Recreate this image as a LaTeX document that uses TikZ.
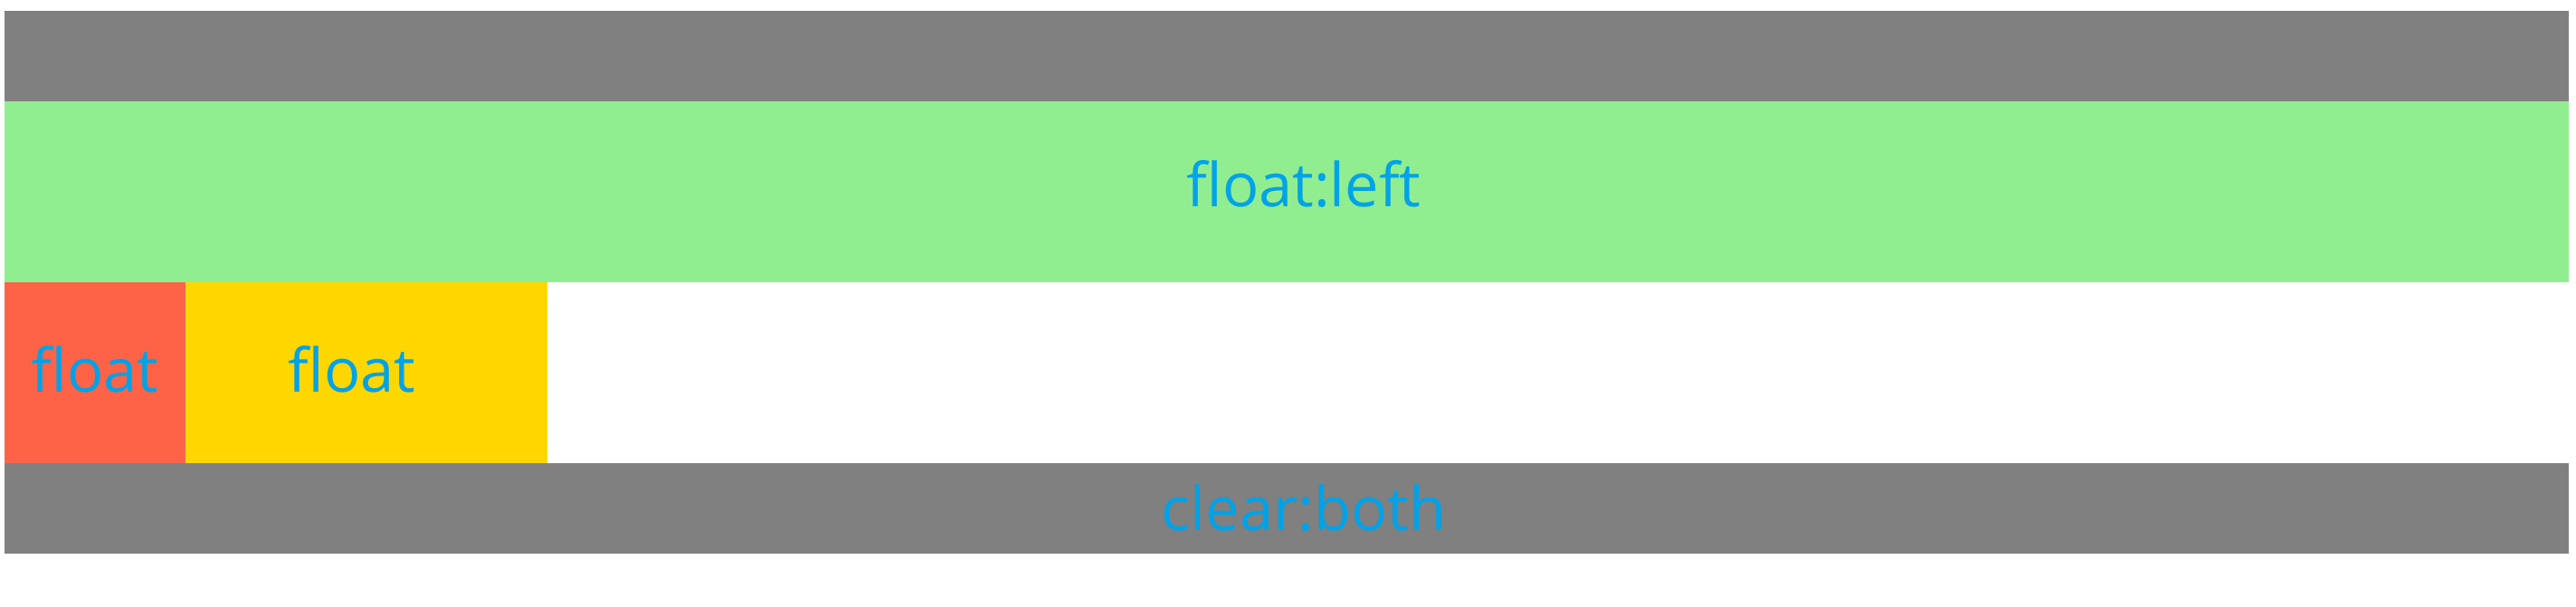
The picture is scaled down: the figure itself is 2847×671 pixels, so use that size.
\documentclass[tikz,border=0pt]{standalone}
\usepackage{fontspec}
\setmainfont{Open Sans}
\usetikzlibrary{positioning}

\definecolor{boxgray}{HTML}{808080}
\definecolor{boxgreen}{HTML}{90EE90}
\definecolor{boxred}{HTML}{FF6347}
\definecolor{boxgold}{HTML}{FFD700}
\definecolor{labelblue}{HTML}{00A2E8}

\begin{document}
\begin{tikzpicture}[
    x=0.01cm, y=0.01cm,
    box/.style={
        rectangle,
        inner sep=0pt,
        outer sep=0pt,
        anchor=north west
    },
    tag/.style={ % Text inside the boxes
        text=labelblue,
        font=\fontsize{19}{23}\selectfont,
        inner sep=0pt,
        anchor=base
    }
]

    \useasboundingbox (0,0) rectangle (2847,671);

    % Header and float:left bar
    \node[box, fill=boxgray, minimum width=28.32cm, minimum height=1cm] (header) at (5,659) {};
    \node[box, fill=boxgreen, minimum width=28.32cm, minimum height=2cm] (left) at (5,559) {};

    % Floating boxes
    \node[box, fill=boxred, minimum width=2cm, minimum height=2cm] (red) at (5,359) {};
    \node[box, fill=boxgold, minimum width=4cm, minimum height=2cm, right=0pt of red.north east, anchor=north west] (gold) {};

    % Clearing bar
    \node[box, fill=boxgray, minimum width=28.32cm, minimum height=1cm] (clear) at (5,159) {};

    % Labels
    \node[tag] (tleft) at (1441,442) {float:left};
    \node[tag] (tred) at (105,237) {float};
    \node[tag] (tgold) at (389,237) {float};
    \node[tag] (tclear) at (1441,84) {clear:both};
\end{tikzpicture}
\end{document}
